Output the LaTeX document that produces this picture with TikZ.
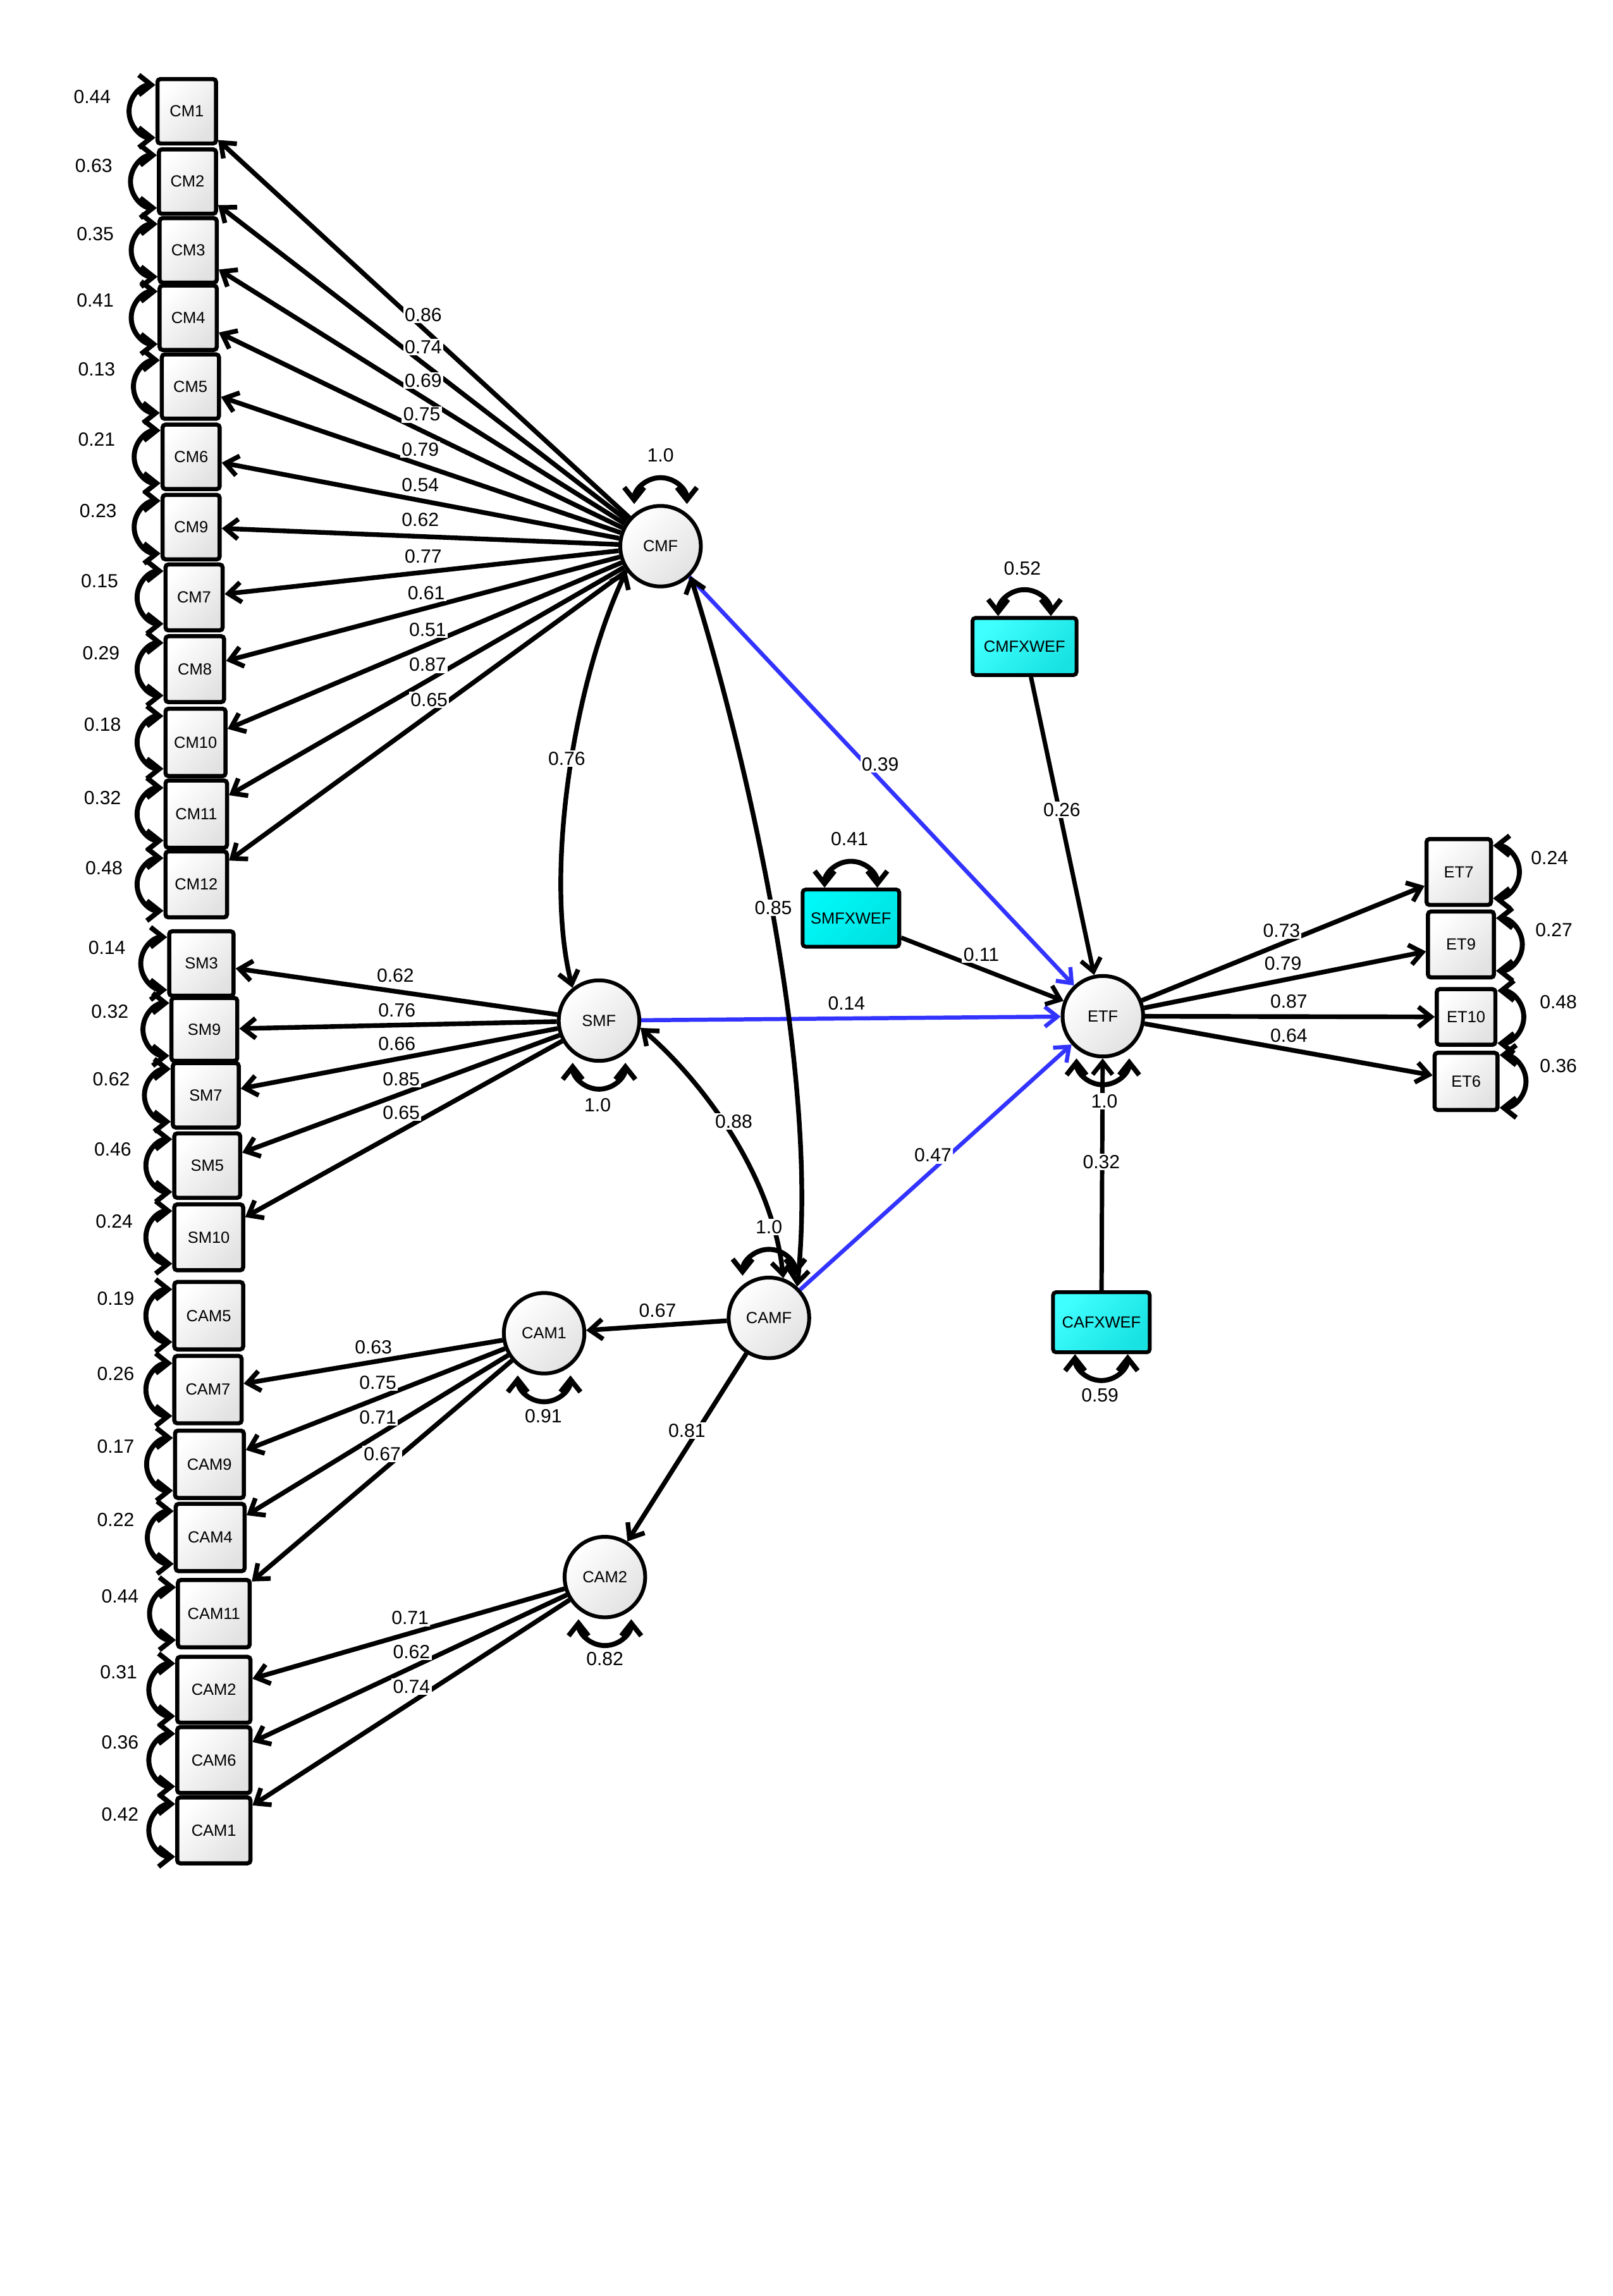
\documentclass[tikz,border=0pt]{standalone}
\usepackage{fontspec}
\setmainfont{Liberation Sans}
\usetikzlibrary{arrows.meta}
\definecolor{cyanA}{RGB}{64,255,255}
\definecolor{cyanB}{RGB}{24,226,226}
\definecolor{cyanC}{RGB}{0,248,248}
\definecolor{cyanD}{RGB}{0,226,226}
\definecolor{pathblue}{RGB}{51,51,255}
\definecolor{boxgray}{RGB}{226,226,226}
\tikzset{
  obsbox/.style={draw, line width=1.4pt, rounded corners=1pt, inner sep=0pt,
    top color=white, bottom color=boxgray, shading angle=45,
    font=\fontsize{5.5}{6}\selectfont},
  latent/.style={circle, draw, line width=1.3pt, minimum size=27.5pt, inner sep=0pt,
    top color=white, bottom color=boxgray, shading angle=45,
    font=\fontsize{5.5}{6}\selectfont},
  modbox/.style={draw, line width=1.3pt, rounded corners=1pt, inner sep=0pt,
    top color=cyanA, bottom color=cyanB, shading angle=45,
    font=\fontsize{5.5}{6}\selectfont},
  numlab/.style={font=\fontsize{6.5}{7}\selectfont, inner sep=0.5pt},
  pathlab/.style={numlab, fill=white},
  loading/.style={->, line width=1.6pt},
  bluepath/.style={->, line width=1.4pt, draw=pathblue},
  blackpath/.style={->, line width=1.5pt},
  covar/.style={<->, line width=1.6pt},
  varloop/.style={<->, line width=1.7pt},
}
\begin{document}
\begin{tikzpicture}[x=0.5pt, y=-0.5pt, >={Straight Barb[length=4.3pt,width=6.8pt]}]
\fill[white] (0,0) rectangle (1101,1568);
\useasboundingbox (0,0) rectangle (1101,1568);

% ---------- observed indicators on the left ----------
\foreach \nm/\tx/\px/\py/\w/\h/\vv/\vx/\vy in {
  CM1/CM1/127.5/76/20/22/0.44/63/66,
  CM2/CM2/128/124/19.5/22/0.63/64/113,
  CM3/CM3/128.5/171/19.5/22/0.35/65/160,
  CM4/CM4/128.5/217/19.5/22/0.41/65/205,
  CM5/CM5/130/264/19.5/22/0.13/66/252,
  CM6/CM6/130.5/312/19.5/22/0.21/66/300,
  CM9/CM9/130.5/360/19.5/22/0.23/67/349,
  CM7/CM7/132.5/408/19.5/22.5/0.15/68/397,
  CM8/CM8/133/457/20/22.5/0.29/69/446,
  CM10/CM10/133.5/507/20.5/23/0.18/70/495,
  CM11/CM11/134/556/21/23/0.32/70/545,
  CM12/CM12/134/604/21/22.5/0.48/71/593,
  SM3/SM3/137.5/658/22/22/0.14/73/647,
  SM9/SM9/139.5/703/22.5/21.5/0.32/75/691,
  SM7/SM7/140.5/748/22.5/22/0.62/76/737,
  SM5/SM5/141.5/796/22.5/22/0.46/77/785,
  SM10/SM10/142.5/845/23.5/22.5/0.24/78/834,
  oCAM5/CAM5/142.5/898.5/23.5/23/0.19/79/887,
  oCAM7/CAM7/142/949/23/23/0.26/79/938,
  oCAM9/CAM9/143/1000/23.5/23/0.17/79/988,
  oCAM4/CAM4/143.5/1050/23.5/23/0.22/79/1038,
  oCAM11/CAM11/146/1102/24.5/23/0.44/82/1090,
  oCAM2/CAM2/146/1154/25/22.5/0.31/81/1142,
  oCAM6/CAM6/146/1202/25/22.5/0.36/82/1190,
  oCAM1/CAM1/146/1250/25/22.5/0.42/82/1239}{
  \node[obsbox, minimum width=\w pt, minimum height=\h pt] (\nm) at (\px,\py) {\tx};
  \draw[varloop] ([yshift=9pt]\nm.west) arc[start angle=90, end angle=270, radius=9pt];
  \node[numlab] (v\nm) at (\vx,\vy) {\vv};
}

% ---------- observed indicators on the right ----------
\foreach \nm/\px/\py/\w/\h/\vv/\vx/\vy in {
  ET7/996/595.5/22/22.5/0.24/1058/586,
  ET9/997.5/645/22.5/22.5/0.27/1061/635,
  ET10/1001/694.5/20/19/0.48/1064/684.5,
  ET6/1001/738.5/21.5/19.5/0.36/1064/728}{
  \node[obsbox, minimum width=\w pt, minimum height=\h pt] (\nm) at (\px,\py) {\nm};
  \draw[varloop] ([yshift=9pt]\nm.east) arc[start angle=90, end angle=-90, radius=9pt];
  \node[numlab] (v\nm) at (\vx,\vy) {\vv};
}

% ---------- latent variables ----------
\node[latent] (CMF)  at (451,373)     {CMF};
\node[latent] (SMF)  at (409,697)     {SMF};
\node[latent] (CAMF) at (525,900)     {CAMF};
\node[latent] (CAM1) at (371.5,910.5) {CAM1};
\node[latent] (CAM2) at (413,1077)    {CAM2};
\node[latent] (ETF)  at (753,694)     {ETF};

% ---------- moderators ----------
\node[modbox, minimum width=35.5pt, minimum height=19.5pt] (CMFXWEF) at (699.5,441.5) {CMFXWEF};
\node[modbox, top color=cyanC, bottom color=cyanD, shading angle=45,
      minimum width=33pt, minimum height=19.5pt] (SMFXWEF) at (581,627) {SMFXWEF};
\node[modbox, minimum width=33pt, minimum height=20.5pt] (CAFXWEF) at (752,903) {CAFXWEF};

% ---------- variance loops ----------
\foreach \nm in {CMF,CAMF,CMFXWEF,SMFXWEF}{
  \draw[varloop] ([xshift=-9pt]\nm.north) arc[start angle=180, end angle=0, radius=9pt];
}
\foreach \nm in {SMF,CAM1,CAM2,ETF,CAFXWEF}{
  \draw[varloop] ([xshift=-9pt]\nm.south) arc[start angle=180, end angle=360, radius=9pt];
}

% ---------- loadings ----------
\foreach \src/\dst in {CMF/CM1,CMF/CM2,CMF/CM3,CMF/CM4,CMF/CM5,CMF/CM6,CMF/CM9,CMF/CM7,
  CMF/CM8,CMF/CM10,CMF/CM11,CMF/CM12,
  SMF/SM3,SMF/SM9,SMF/SM7,SMF/SM5,SMF/SM10,
  CAM1/oCAM7,CAM1/oCAM9,CAM1/oCAM4,CAM1/oCAM11,
  CAM2/oCAM2,CAM2/oCAM6,CAM2/oCAM1,
  ETF/ET7,ETF/ET9,ETF/ET10,ETF/ET6,
  CAMF/CAM1,CAMF/CAM2}{
  \draw[loading] (\src) -- (\dst);
}

% ---------- structural paths ----------
\draw[bluepath] (CMF) -- (ETF);
\draw[bluepath] (SMF) -- (ETF);
\draw[bluepath] (CAMF) -- (ETF);
\draw[blackpath] (CMFXWEF) -- (ETF);
\draw[blackpath] (SMFXWEF) -- (ETF);
\draw[blackpath] (CAFXWEF) -- (ETF);

% ---------- covariances ----------
\draw[covar] (CMF.-144) .. controls (390,470) and (372,600) .. (SMF.129);
\draw[covar] (CMF.-45) .. controls (508,510) and (560,730) .. (CAMF.48);
\draw[covar] (SMF.-10) .. controls (477,736) and (527,800) .. (CAMF.70);

% ---------- path labels ----------
\foreach \nm/\vv/\lx/\ly in {
  CM1/0.86/289/215, CM2/0.74/289/237, CM3/0.69/289/260, CM4/0.75/288/283,
  CM5/0.79/287/307, CM6/0.54/287/331, CM9/0.62/287/355, CM7/0.77/289/380,
  CM8/0.61/291/405, CM10/0.51/292/430, CM11/0.87/292/454, CM12/0.65/293/478,
  SM3/0.62/270/666, SM9/0.76/271/690, SM7/0.66/271/713, SM5/0.85/274/737, SM10/0.65/274/760,
  oCAM7/0.63/255/920, oCAM9/0.75/258/944, oCAM4/0.71/258/968, oCAM11/0.67/261/993,
  oCAM2/0.71/280/1105, oCAM6/0.62/281/1128, oCAM1/0.74/281/1152,
  ET7/0.73/875/635.5, ET9/0.79/876/658, ET10/0.87/880/684, ET6/0.64/880/707,
  CAM1/0.67/449/895, CAM2/0.81/469/977,
  CMFSMF/0.76/387/518, CMFCAMF/0.85/528/620, SMFCAMF/0.88/501/766,
  CMFETF/0.39/601/522, SMFETF/0.14/578/685, CAMFETF/0.47/637/789,
  CMFXWEF/0.26/725/553, SMFXWEF/0.11/670/652, CAFXWEF/0.32/752/793.5}{
  \node[pathlab] (l\nm) at (\lx,\ly) {\vv};
}

% ---------- variance labels of latents / moderators ----------
\node[pathlab] (vCMF)  at (451,311)   {1.0};
\node[pathlab] (vSMF)  at (408,754.5) {1.0};
\node[pathlab] (vCAMF) at (525,838)   {1.0};
\node[pathlab] (vCAM1) at (371,967)   {0.91};
\node[pathlab] (vCAM2) at (413,1133)  {0.82};
\node[pathlab] (vETF)  at (754,752)   {1.0};
\node[pathlab] (vCMFXWEF) at (698,388) {0.52};
\node[pathlab] (vSMFXWEF) at (580,573) {0.41};
\node[pathlab] (vCAFXWEF) at (751,953) {0.59};
\end{tikzpicture}
\end{document}
